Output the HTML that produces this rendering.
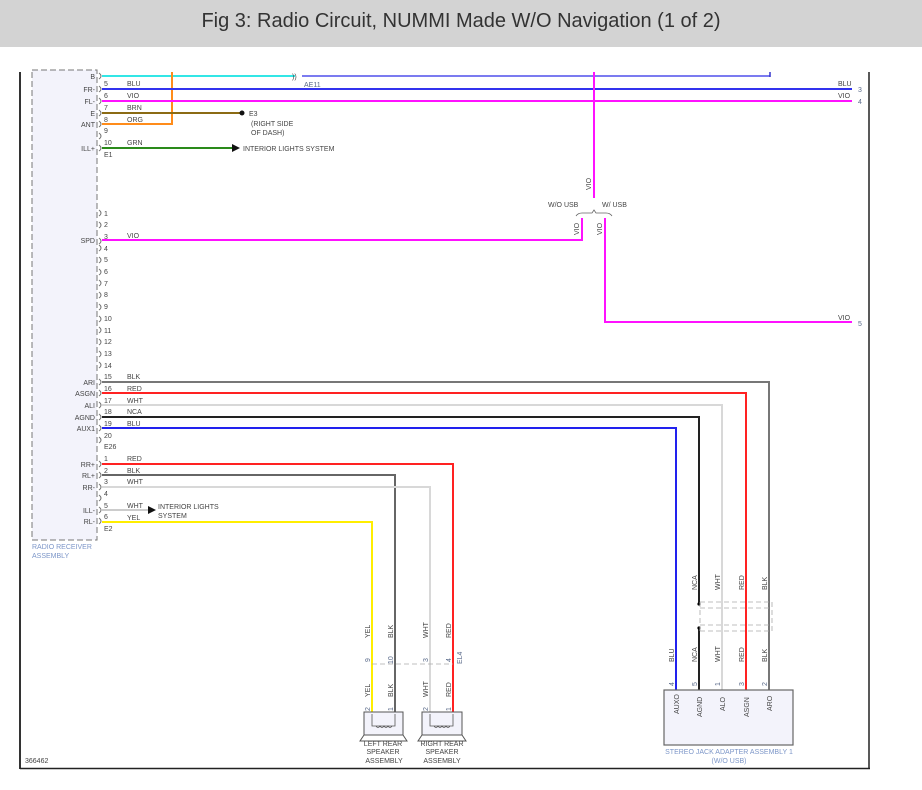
<!DOCTYPE html>
<html><head><meta charset="utf-8"><style>
body{margin:0;background:#fff;width:922px;height:790px;overflow:hidden;font-family:"Liberation Sans",sans-serif}
.hdr{position:absolute;left:0;top:0;width:922px;height:47px;background:#d3d3d3;text-align:center;line-height:42px;font-size:20px;color:#333;font-family:"Liberation Sans Narrow","Liberation Sans",sans-serif}
svg{position:absolute;left:0;top:0}
text{font-family:"Liberation Sans",sans-serif;font-size:7px;fill:#444}
.p{fill:#5a6a8a}
.a{fill:#7c96c8}
</style></head><body>
<div class="hdr">Fig 3: Radio Circuit, NUMMI Made W/O Navigation (1 of 2)</div>
<svg width="922" height="790" viewBox="0 0 922 790">
<!-- frame -->
<line x1="20" y1="72" x2="20" y2="769" stroke="#333" stroke-width="2"/>
<line x1="869" y1="72" x2="869" y2="769" stroke="#222" stroke-width="1.5"/>
<line x1="20" y1="768.5" x2="870" y2="768.5" stroke="#222" stroke-width="1.5"/>
<!-- receiver box -->
<rect x="32" y="70" width="65" height="470" fill="#f3f3fb" stroke="#777" stroke-dasharray="6,3"/>
<text class="a" x="32" y="549">RADIO RECEIVER</text>
<text class="a" x="32" y="558">ASSEMBLY</text>
<!-- top wires -->
<line x1="102" y1="76" x2="295" y2="76" stroke="#33e6e6" stroke-width="2"/>
<text x="292" y="79" font-size="9" fill="#555">))</text>
<line x1="302" y1="76" x2="770" y2="76" stroke="#7b7bf0" stroke-width="2"/>
<line x1="770" y1="72" x2="770" y2="77" stroke="#33c" stroke-width="1.5"/>
<text x="304" y="87" class="p" text-decoration="underline">AE11</text>
<path d="M102 124 H172 V72" fill="none" stroke="#ff8c1a" stroke-width="2"/>
<line x1="102" y1="89" x2="852" y2="89" stroke="#3333ee" stroke-width="2"/>
<line x1="102" y1="101" x2="852" y2="101" stroke="#ff11ff" stroke-width="2"/>
<line x1="594" y1="72" x2="594" y2="198" stroke="#ff11ff" stroke-width="2"/>
<line x1="102" y1="113" x2="240" y2="113" stroke="#8b6b14" stroke-width="2"/>
<circle cx="242" cy="113" r="2.5" fill="#111"/>
<text x="249" y="116">E3</text><text x="251" y="126">(RIGHT SIDE</text><text x="251" y="135">OF DASH)</text>
<line x1="102" y1="148" x2="232" y2="148" stroke="#2a8a1a" stroke-width="2"/>
<path d="M232 144 L240 148 L232 152Z" fill="#111"/>
<text x="243" y="151">INTERIOR LIGHTS SYSTEM</text>
<text x="838" y="86">BLU</text><text x="858" y="92" class="p">3</text>
<text x="838" y="98">VIO</text><text x="858" y="104" class="p">4</text>
<text x="127" y="86">BLU</text><text x="127" y="98">VIO</text><text x="127" y="110">BRN</text><text x="127" y="122">ORG</text><text x="127" y="145">GRN</text>
<!-- left labels conn1 -->
<g text-anchor="end">
<text x="95" y="79">B</text><text x="95" y="92">FR-</text><text x="95" y="104">FL-</text><text x="95" y="116">E</text><text x="95" y="127">ANT</text><text x="95" y="151">ILL+</text>
<text x="95" y="243">SPD</text>
<text x="95" y="385">ARI</text><text x="95" y="396">ASGN</text><text x="95" y="408">ALI</text><text x="95" y="420">AGND</text><text x="95" y="431">AUX1</text>
<text x="95" y="467">RR+</text><text x="95" y="478">RL+</text><text x="95" y="490">RR-</text><text x="95" y="513">ILL-</text><text x="95" y="524">RL-</text>
</g>
<g class="p">
<text x="104" y="86">5</text><text x="104" y="98">6</text><text x="104" y="110">7</text><text x="104" y="122">8</text><text x="104" y="133">9</text><text x="104" y="145">10</text><text x="104" y="157">E1</text>
<text x="104" y="216">1</text><text x="104" y="227">2</text><text x="104" y="239">3</text><text x="104" y="251">4</text><text x="104" y="262">5</text><text x="104" y="274">6</text><text x="104" y="286">7</text><text x="104" y="297">8</text><text x="104" y="309">9</text><text x="104" y="321">10</text><text x="104" y="333">11</text><text x="104" y="344">12</text><text x="104" y="356">13</text><text x="104" y="368">14</text><text x="104" y="379">15</text><text x="104" y="391">16</text><text x="104" y="403">17</text><text x="104" y="414">18</text><text x="104" y="426">19</text><text x="104" y="438">20</text>
<text x="104" y="449" fill="#a05a00">E26</text>
<text x="104" y="461">1</text><text x="104" y="473">2</text><text x="104" y="484">3</text><text x="104" y="496">4</text><text x="104" y="508">5</text><text x="104" y="519">6</text><text x="104" y="531">E2</text>
</g>
<!-- pin arcs -->
<g fill="none" stroke="#777" stroke-width="1">
<path d="M99 73q4 3 0 6M99 86q4 3 0 6M99 98q4 3 0 6M99 110q4 3 0 6M99 121q4 3 0 6M99 133q4 3 0 6M99 145q4 3 0 6
M99 210q4 3 0 6M99 222q4 3 0 6M99 238q4 3 0 6M99 245q4 3 0 6M99 257q4 3 0 6M99 269q4 3 0 6M99 280q4 3 0 6M99 292q4 3 0 6M99 304q4 3 0 6M99 316q4 3 0 6M99 327q4 3 0 6M99 339q4 3 0 6M99 351q4 3 0 6M99 362q4 3 0 6M99 379q4 3 0 6M99 390q4 3 0 6M99 402q4 3 0 6M99 414q4 3 0 6M99 425q4 3 0 6M99 437q4 3 0 6
M99 461q4 3 0 6M99 472q4 3 0 6M99 484q4 3 0 6M99 495q4 3 0 6M99 507q4 3 0 6M99 518q4 3 0 6"/>
</g>
<!-- SPD / VIO branch -->
<path d="M102 240 H582 V218" fill="none" stroke="#ff11ff" stroke-width="2"/>
<path d="M605 218 V322 H852" fill="none" stroke="#ff11ff" stroke-width="2"/>
<text x="127" y="238">VIO</text>
<text x="838" y="320">VIO</text><text x="858" y="326" class="p">5</text>
<text x="548" y="207">W/O USB</text><text x="602" y="207">W/ USB</text>
<path d="M576 216 q2-3 6-3 h10 l2-3 2 3 h10 q4 0 6 3" fill="none" stroke="#666" stroke-width="0.8"/>
<text transform="translate(591,190) rotate(-90)">VIO</text>
<text transform="translate(579,235) rotate(-90)">VIO</text>
<text transform="translate(602,235) rotate(-90)">VIO</text>
<!-- audio wires -->
<path d="M102 382 H769 V690" fill="none" stroke="#777" stroke-width="2"/>
<path d="M102 393 H746 V690" fill="none" stroke="#ff2222" stroke-width="2"/>
<path d="M102 405 H722 V690" fill="none" stroke="#d8d8d8" stroke-width="2"/>
<path d="M102 417 H699 V605" fill="none" stroke="#222" stroke-width="2"/>
<line x1="699" y1="628" x2="699" y2="690" stroke="#222" stroke-width="2"/>
<circle cx="699" cy="604" r="1.6" fill="#000"/><circle cx="699" cy="628" r="1.6" fill="#000"/>
<path d="M102 428 H676 V690" fill="none" stroke="#2222ee" stroke-width="2"/>
<text x="127" y="379">BLK</text><text x="127" y="391">RED</text><text x="127" y="403">WHT</text><text x="127" y="414">NCA</text><text x="127" y="426">BLU</text>
<g fill="none" stroke="#aaa" stroke-width="0.8" stroke-dasharray="5,3">
<line x1="700" y1="602" x2="772" y2="602"/><line x1="700" y1="608" x2="772" y2="608"/>
<line x1="700" y1="625" x2="772" y2="625"/><line x1="700" y1="631" x2="772" y2="631"/>
<line x1="700" y1="602" x2="700" y2="631"/><line x1="772" y1="602" x2="772" y2="631"/>
</g>
<g>
<text transform="translate(697,590) rotate(-90)">NCA</text>
<text transform="translate(720,590) rotate(-90)">WHT</text>
<text transform="translate(744,590) rotate(-90)">RED</text>
<text transform="translate(767,590) rotate(-90)">BLK</text>
<text transform="translate(674,662) rotate(-90)">BLU</text>
<text transform="translate(697,662) rotate(-90)">NCA</text>
<text transform="translate(720,662) rotate(-90)">WHT</text>
<text transform="translate(744,662) rotate(-90)">RED</text>
<text transform="translate(767,662) rotate(-90)">BLK</text>
<text transform="translate(674,686) rotate(-90)" class="p">4</text>
<text transform="translate(697,686) rotate(-90)" class="p">5</text>
<text transform="translate(720,686) rotate(-90)" class="p">1</text>
<text transform="translate(744,686) rotate(-90)" class="p">3</text>
<text transform="translate(767,686) rotate(-90)" class="p">2</text>
</g>
<rect x="664" y="690" width="129" height="55" fill="#f3f3fb" stroke="#666" stroke-width="1.2"/>
<g>
<text transform="translate(679,714) rotate(-90)">AUXO</text>
<text transform="translate(702,717) rotate(-90)">AGND</text>
<text transform="translate(725,711) rotate(-90)">ALO</text>
<text transform="translate(749,717) rotate(-90)">ASGN</text>
<text transform="translate(772,711) rotate(-90)">ARO</text>
</g>
<text class="a" x="729" y="754" text-anchor="middle">STEREO JACK ADAPTER ASSEMBLY 1</text>
<text class="a" x="729" y="763" text-anchor="middle">(W/O USB)</text>
<!-- speakers -->
<path d="M102 464 H453 V712" fill="none" stroke="#ff2222" stroke-width="2"/>
<path d="M102 475 H395 V712" fill="none" stroke="#666" stroke-width="2"/>
<path d="M102 487 H430 V712" fill="none" stroke="#d8d8d8" stroke-width="2"/>
<line x1="102" y1="510" x2="148" y2="510" stroke="#ccc" stroke-width="2"/>
<path d="M148 506 L156 510 L148 514Z" fill="#111"/>
<text x="158" y="509">INTERIOR LIGHTS</text><text x="158" y="518">SYSTEM</text>
<path d="M102 522 H372 V712" fill="none" stroke="#ffee00" stroke-width="2"/>
<text x="127" y="461">RED</text><text x="127" y="473">BLK</text><text x="127" y="484">WHT</text><text x="127" y="508">WHT</text><text x="127" y="520">YEL</text>
<line x1="372" y1="664" x2="453" y2="664" stroke="#aaa" stroke-dasharray="5,3" stroke-width="0.8"/>
<g>
<text transform="translate(370,638) rotate(-90)">YEL</text>
<text transform="translate(393,638) rotate(-90)">BLK</text>
<text transform="translate(428,638) rotate(-90)">WHT</text>
<text transform="translate(451,638) rotate(-90)">RED</text>
<text transform="translate(370,697) rotate(-90)">YEL</text>
<text transform="translate(393,697) rotate(-90)">BLK</text>
<text transform="translate(428,697) rotate(-90)">WHT</text>
<text transform="translate(451,697) rotate(-90)">RED</text>
<text transform="translate(370,662) rotate(-90)" class="p">9</text>
<text transform="translate(393,664) rotate(-90)" class="p">10</text>
<text transform="translate(428,662) rotate(-90)" class="p">3</text>
<text transform="translate(451,662) rotate(-90)" class="p">4</text>
<text transform="translate(462,664) rotate(-90)" class="p">EL4</text>
<text transform="translate(370,711) rotate(-90)" class="p">2</text>
<text transform="translate(393,711) rotate(-90)" class="p">1</text>
<text transform="translate(428,711) rotate(-90)" class="p">2</text>
<text transform="translate(451,711) rotate(-90)" class="p">1</text>
</g>
<g fill="#f3f3fb" stroke="#555" stroke-width="1">
<rect x="364" y="712" width="39" height="23"/><path d="M364 735 L360 741 H407 L403 735" fill="none"/>
<rect x="422" y="712" width="40" height="23"/><path d="M422 735 L418 741 H466 L462 735" fill="none"/>
</g>
<g fill="none" stroke="#555" stroke-width="0.8">
<path d="M372 714 V726 H395 V714 M376 726 q2 3 4 0 q2 3 4 0 q2 3 4 0 q2 3 4 0"/>
<path d="M430 714 V726 H453 V714 M434 726 q2 3 4 0 q2 3 4 0 q2 3 4 0 q2 3 4 0"/>
</g>
<g class="a" text-anchor="middle">
<text x="383" y="746">LEFT REAR</text><text x="383" y="754">SPEAKER</text><text x="384" y="763">ASSEMBLY</text>
<text x="442" y="746">RIGHT REAR</text><text x="442" y="754">SPEAKER</text><text x="442" y="763">ASSEMBLY</text>
</g>
<text x="25" y="763" fill="#335">366462</text>
</svg>
</body></html>
